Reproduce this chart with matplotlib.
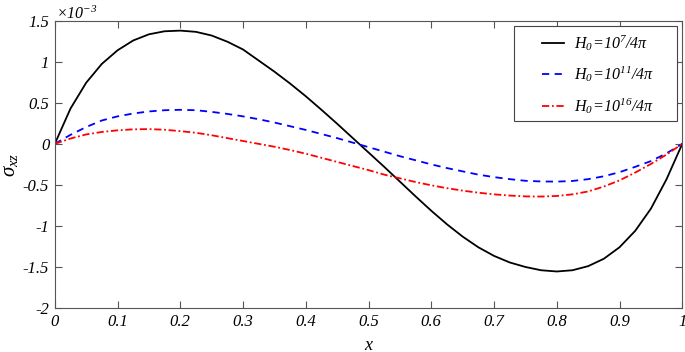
import matplotlib
matplotlib.use("Agg")
import matplotlib.pyplot as plt
from matplotlib.patches import Rectangle

plt.rcParams['font.family'] = ['Liberation Serif', 'DejaVu Serif']
plt.rcParams['font.style'] = 'italic'
plt.rcParams['mathtext.fontset'] = 'custom'
plt.rcParams['mathtext.rm'] = 'Liberation Serif:italic'
plt.rcParams['mathtext.it'] = 'Liberation Serif:italic'

x_vals = [0, 0.025, 0.05, 0.075, 0.1, 0.125, 0.15, 0.175, 0.2, 0.225, 0.25, 0.275, 0.3, 0.325,
          0.35, 0.375, 0.4, 0.425, 0.45, 0.475, 0.5, 0.525, 0.55, 0.575, 0.6, 0.625, 0.65, 0.675,
          0.7, 0.725, 0.75, 0.775, 0.8, 0.825, 0.85, 0.875, 0.9, 0.925, 0.95, 0.975, 1.0]
black_vals = [0, 0.43, 0.745, 0.975, 1.14, 1.26, 1.335, 1.372, 1.38, 1.365, 1.32, 1.245, 1.15, 1.015,
              0.88, 0.735, 0.58, 0.415, 0.245, 0.07, -0.105, -0.28, -0.46, -0.64, -0.815, -0.98, -1.13, -1.26,
              -1.365, -1.445, -1.50, -1.54, -1.555, -1.54, -1.49, -1.40, -1.26, -1.06, -0.79, -0.43, 0]
blue_vals = [0, 0.11, 0.205, 0.285, 0.335, 0.37, 0.395, 0.41, 0.415, 0.41, 0.39, 0.365, 0.335, 0.30,
             0.26, 0.215, 0.17, 0.12, 0.07, 0.015, -0.04, -0.095, -0.15, -0.20, -0.25, -0.295, -0.335, -0.375,
             -0.405, -0.43, -0.45, -0.458, -0.46, -0.452, -0.43, -0.395, -0.345, -0.28, -0.21, -0.115, 0]
red_vals = [0, 0.065, 0.115, 0.145, 0.165, 0.177, 0.18, 0.172, 0.155, 0.135, 0.105, 0.07, 0.035, 0.0,
            -0.035, -0.075, -0.12, -0.17, -0.22, -0.27, -0.32, -0.375, -0.42, -0.465, -0.505, -0.54, -0.57, -0.595,
            -0.615, -0.63, -0.64, -0.642, -0.635, -0.615, -0.58, -0.52, -0.445, -0.35, -0.245, -0.13, 0]

labels = [r'$H_0\!=\!10^{7}/4\pi$', r'$H_0\!=\!10^{11}/4\pi$', r'$H_0\!=\!10^{16}/4\pi$']
xticks = [0, 0.1, 0.2, 0.3, 0.4, 0.5, 0.6, 0.7, 0.8, 0.9, 1]
xtick_labels = ['0', '0.1', '0.2', '0.3', '0.4', '0.5', '0.6', '0.7', '0.8', '0.9', '1']
yticks = [-2, -1.5, -1, -0.5, 0, 0.5, 1, 1.5]
ytick_labels = ['-2', '-1.5', '-1', '-0.5', '0', '0.5', '1', '1.5']

fig = plt.figure(figsize=(6.85, 3.52), dpi=100)
ax = fig.add_axes([0.080, 0.125, 0.916, 0.816])

ax.plot(x_vals, black_vals, color='black', lw=1.3, label=labels[0])
ax.plot(x_vals, blue_vals, color='blue', lw=1.3, ls=(0, (4, 3)), label=labels[1])
ax.plot(x_vals, red_vals, color='red', lw=1.3, ls=(0, (4, 1.5, 1, 1.5)), label=labels[2])

ax.set_xlim(0, 1)
ax.set_ylim(-2, 1.5)
ax.set_xticks(xticks)
ax.set_xticklabels(xtick_labels)
ax.set_yticks(yticks)
ax.set_yticklabels(ytick_labels)
ax.tick_params(direction='in', top=True, right=True, length=5, width=0.8,
               color='#555555', labelsize=12, pad=4)
for s in ax.spines.values():
    s.set_color('#555555')
    s.set_linewidth(0.8)

ax.set_xlabel('x', fontsize=13, labelpad=5)
ax.set_ylabel(r'$\sigma_{xz}$', fontsize=15, labelpad=2)
fig.text(0.082, 0.947, r'$\times10^{-3}$', fontsize=11.5, ha='left', va='baseline')

# legend frame (MATLAB-style, wide)
ax.add_patch(Rectangle((0.732, 0.652), 0.260, 0.330, transform=ax.transAxes,
                       facecolor='white', edgecolor='#444444', lw=0.8, zorder=4))
leg = ax.legend(loc='upper left', bbox_to_anchor=(0.777, 0.958), fontsize=11.5,
                frameon=False, handlelength=1.35, borderpad=0, labelspacing=0.75,
                handletextpad=0.65, borderaxespad=0)
leg.set_zorder(5)

fig.savefig('out.png', dpi=100)
